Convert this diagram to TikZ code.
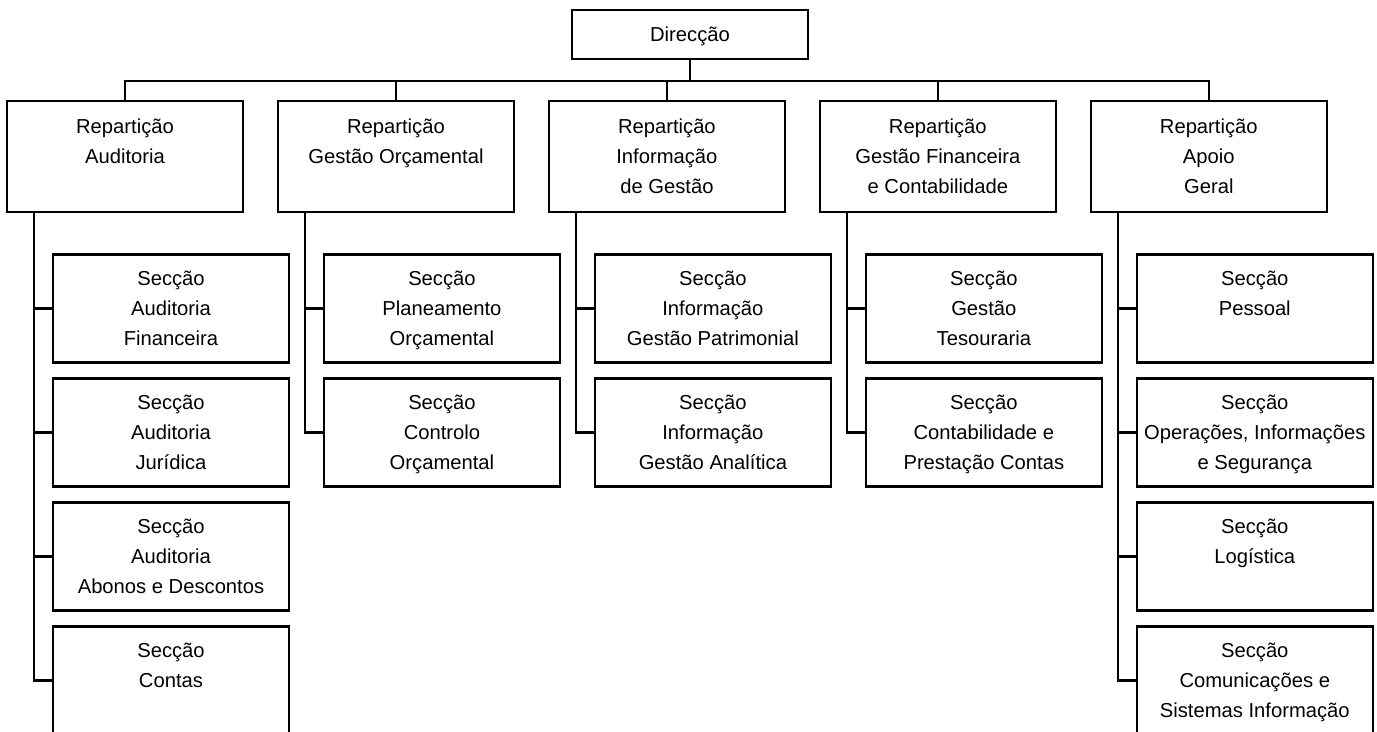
\documentclass[tikz,border=0pt]{standalone}
\usepackage{fontspec}
\usepackage{tikz}
\setmainfont{Liberation Sans}
\newcommand{\orgfont}{\fontsize{11.5pt}{17pt}\selectfont}
\tikzset{
    head/.style = {rectangle, minimum width=4.72cm, minimum height=0.98cm, text centered, text depth=0pt, draw=black, line width=1.3pt, font=\orgfont},
    rep/.style = {rectangle, minimum width=4.72cm, minimum height=2.22cm, align=center, text depth=0pt, draw=black, line width=1.3pt, font=\orgfont},
    sec/.style = {rectangle, minimum width=4.72cm, minimum height=2.16cm, align=center, text depth=0pt, draw=black, line width=1.3pt, font=\orgfont},
    link/.style = {line width=1.3pt}
}

\begin{document}
\begin{tikzpicture}[x=0.02cm, y=-0.02cm, node distance=2.48cm]
\path[use as bounding box, clip] (0,0) rectangle (1377,731);
\fill[white] (0,0) rectangle (1377,731);

\node (dir) [head] at (690,34.5) {Direcção};
\coordinate (bus) at (0,81);

\node (rep1) [rep] at (125,156.5) {Repartição\\Auditoria\\~};
\node (rep2) [rep, node distance=5.42cm, right of=rep1] {Repartição\\Gestão Orçamental\\~};
\node (rep3) [rep, node distance=5.42cm, right of=rep2] {Repartição\\Informação\\de Gestão};
\node (rep4) [rep, node distance=5.42cm, right of=rep3] {Repartição\\Gestão Financeira\\e Contabilidade};
\node (rep5) [rep, node distance=5.42cm, right of=rep4] {Repartição\\Apoio\\Geral};

\node (aud1) [sec] at (171,308.5) {Secção\\Auditoria\\Financeira};
\node (aud2) [sec, below of=aud1] {Secção\\Auditoria\\Jurídica};
\node (aud3) [sec, below of=aud2] {Secção\\Auditoria\\Abonos e Descontos};
\node (aud4) [sec, below of=aud3] {Secção\\Contas\\~};

\node (orc1) [sec, node distance=5.42cm, right of=aud1] {Secção\\Planeamento\\Orçamental};
\node (orc2) [sec, below of=orc1] {Secção\\Controlo\\Orçamental};

\node (inf1) [sec, node distance=5.42cm, right of=orc1] {Secção\\Informação\\Gestão Patrimonial};
\node (inf2) [sec, below of=inf1] {Secção\\Informação\\Gestão Analítica};

\node (fin1) [sec, node distance=5.42cm, right of=inf1] {Secção\\Gestão\\Tesouraria};
\node (fin2) [sec, below of=fin1] {Secção\\Contabilidade e\\Prestação Contas};

\node (apo1) [sec, node distance=5.42cm, right of=fin1] {Secção\\Pessoal\\~};
\node (apo2) [sec, below of=apo1] {Secção\\Operações, Informações\\e Segurança};
\node (apo3) [sec, below of=apo2] {Secção\\Logística\\~};
\node (apo4) [sec, below of=apo3] {Secção\\Comunicações e\\Sistemas Informação};

\draw [link] (dir.south) -- (dir.south |- bus);
\draw [link] (rep1.north) -- (rep1.north |- bus) -- (rep5.north |- bus) -- (rep5.north);
\draw [link] (rep2.north) -- (rep2.north |- bus);
\draw [link] (rep3.north) -- (rep3.north |- bus);
\draw [link] (rep4.north) -- (rep4.north |- bus);

\draw [link] ([xshift=0.56cm]rep1.south west) |- (aud1.west);
\draw [link] ([xshift=0.56cm]rep1.south west) |- (aud2.west);
\draw [link] ([xshift=0.56cm]rep1.south west) |- (aud3.west);
\draw [link] ([xshift=0.56cm]rep1.south west) |- (aud4.west);
\draw [link] ([xshift=0.56cm]rep2.south west) |- (orc1.west);
\draw [link] ([xshift=0.56cm]rep2.south west) |- (orc2.west);
\draw [link] ([xshift=0.56cm]rep3.south west) |- (inf1.west);
\draw [link] ([xshift=0.56cm]rep3.south west) |- (inf2.west);
\draw [link] ([xshift=0.56cm]rep4.south west) |- (fin1.west);
\draw [link] ([xshift=0.56cm]rep4.south west) |- (fin2.west);
\draw [link] ([xshift=0.56cm]rep5.south west) |- (apo1.west);
\draw [link] ([xshift=0.56cm]rep5.south west) |- (apo2.west);
\draw [link] ([xshift=0.56cm]rep5.south west) |- (apo3.west);
\draw [link] ([xshift=0.56cm]rep5.south west) |- (apo4.west);
\end{tikzpicture}
\end{document}
